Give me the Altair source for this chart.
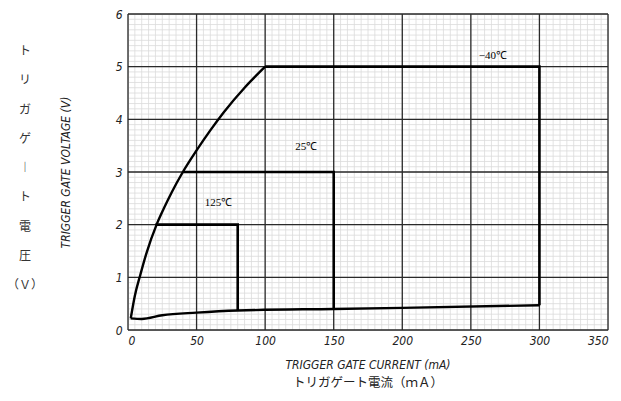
import altair as alt
import numpy as np
import pandas as pd

# ---- data ----
x_ticks = [0, 50, 100, 150, 200, 250, 300, 350]
y_ticks = [0, 1, 2, 3, 4, 5, 6]

# left boundary curve (gate current mA, gate voltage V)
left_x = [2, 5, 9, 13.6, 21, 26, 32, 40, 50, 60, 70, 85, 100]
left_y = [0.22, 0.65, 1.05, 1.47, 2.01, 2.3, 2.62, 3.0, 3.41, 3.79, 4.14, 4.6, 5.0]

# lower boundary curve
low_x = [2, 10, 25, 50, 80, 150, 200, 300]
low_y = [0.22, 0.21, 0.28, 0.33, 0.37, 0.40, 0.42, 0.47]

# temperature boxes
r125_x = [20, 80, 80]
r125_y = [2.0, 2.0, 0.37]
r25_x = [40, 150, 150]
r25_y = [3.0, 3.0, 0.40]
r40_x = [100, 300, 300]
r40_y = [5.0, 5.0, 0.47]

label_text = ["125℃", "25℃", "−40℃"]
label_x = [66, 130, 266]
label_y = [2.42, 3.48, 5.2]

y_title_en = "TRIGGER GATE VOLTAGE (V)"
y_title_jp = ["ト", "リ", "ガ", "ゲ", "︱", "ト", "電", "圧", "（Ｖ）"]
x_title_en = "TRIGGER GATE CURRENT (mA)"
x_title_jp = "トリガゲート電流（ｍＡ）"

# ---- build tables ----
def table(series_list):
    rows = []
    for name, xs_, ys_ in series_list:
        for i, (a, b) in enumerate(zip(xs_, ys_)):
            rows.append({"series": name, "order": i, "x": a, "y": b})
    return pd.DataFrame(rows)

curves = table([("left", left_x, left_y), ("low", low_x, low_y)])
boxes = table([("r125", r125_x, r125_y), ("r25", r25_x, r25_y), ("r40", r40_x, r40_y)])

labels = pd.DataFrame({"t": label_text, "x": label_x, "y": label_y})

minor_x = pd.DataFrame({"v": np.arange(0, 351, 5)})
minor_y = pd.DataFrame({"v": np.round(np.arange(0, 6.001, 0.1), 2)})
major_x = pd.DataFrame({"v": x_ticks})
major_y = pd.DataFrame({"v": y_ticks})

W, H = 480, 316
xs = alt.Scale(domain=[0, 350], nice=False, zero=False)
ys = alt.Scale(domain=[0, 6], nice=False, zero=False)

TICKFONT = "Liberation Sans Narrow, DejaVu Sans Condensed, Liberation Sans, sans-serif"

x_axis = alt.Axis(values=x_ticks, grid=False, domain=False, ticks=False,
                  labelFont=TICKFONT, labelFontStyle="italic", labelFontSize=12,
                  labelColor="#222", labelPadding=5, title=None)
y_axis = alt.Axis(values=y_ticks, grid=False, domain=False, ticks=False,
                  labelFont=TICKFONT, labelFontStyle="italic", labelFontSize=12,
                  labelColor="#222", labelPadding=6,
                  title=y_title_en, titleFont=TICKFONT, titleFontStyle="italic",
                  titleFontWeight="normal", titleFontSize=12, titleColor="#222",
                  titleX=-63, titleY=158, titleAngle=270,
                  titleAlign="center", titleBaseline="middle")

minor_v = alt.Chart(minor_x).mark_rule(color="#dadada", strokeWidth=0.8).encode(
    x=alt.X("v:Q", scale=xs, axis=x_axis))
minor_h = alt.Chart(minor_y).mark_rule(color="#dadada", strokeWidth=0.8).encode(
    y=alt.Y("v:Q", scale=ys, axis=y_axis))
major_v = alt.Chart(major_x).mark_rule(color="#2a2a2a", strokeWidth=1.3).encode(
    x=alt.X("v:Q", scale=xs))
major_h = alt.Chart(major_y).mark_rule(color="#2a2a2a", strokeWidth=1.3).encode(
    y=alt.Y("v:Q", scale=ys))

curve_lines = alt.Chart(curves).mark_line(color="black", strokeWidth=2.4,
                                          interpolate="monotone").encode(
    x=alt.X("x:Q", scale=xs),
    y=alt.Y("y:Q", scale=ys),
    detail="series:N",
    order="order:Q")

box_lines = alt.Chart(boxes).mark_line(color="black", strokeWidth=2.6,
                                       strokeJoin="miter").encode(
    x=alt.X("x:Q", scale=xs),
    y=alt.Y("y:Q", scale=ys),
    detail="series:N",
    order="order:Q")

lbl = alt.Chart(labels).mark_text(font="Liberation Serif", fontSize=11,
                                  color="black").encode(
    x=alt.X("x:Q", scale=xs), y=alt.Y("y:Q", scale=ys), text="t:N")

one = pd.DataFrame({"a": [0]})
jp_y = alt.Chart(one).mark_text(text=y_title_jp, lineHeight=29.25,
                                font="Noto Sans CJK JP", fontSize=12,
                                color="#333", baseline="top", align="center").encode(
    x=alt.value(-103), y=alt.value(32))
en_x = alt.Chart(one).mark_text(text=x_title_en, font=TICKFONT, fontStyle="italic",
                                fontSize=12, color="#222", baseline="middle",
                                align="center").encode(
    x=alt.value(W / 2), y=alt.value(351))
jp_x = alt.Chart(one).mark_text(text=x_title_jp, font="Noto Sans CJK JP",
                                fontSize=12.5, color="#222", baseline="middle",
                                align="center").encode(
    x=alt.value(W / 2), y=alt.value(369))

chart = alt.layer(minor_v, minor_h, major_v, major_h, curve_lines, box_lines,
                  lbl, jp_y, en_x, jp_x).properties(
    width=W, height=H,
    autosize=alt.AutoSizeParams(type="none"),
    padding={"left": 120, "top": 6, "right": 5, "bottom": 63},
).configure_view(stroke=None).configure(background="white")

chart.save("out.html", embed_options={"renderer": "svg", "actions": False})
